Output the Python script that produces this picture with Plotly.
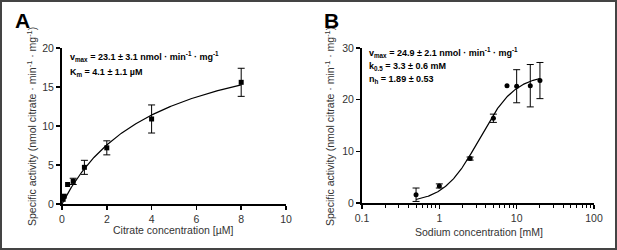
import plotly.graph_objects as go
import numpy as np

# Panel A: citrate
citrate_x = [0.05, 0.1, 0.25, 0.5, 1, 2, 4, 8]
citrate_y = [0.6, 1.0, 2.5, 2.9, 4.7, 7.2, 10.9, 15.6]
citrate_err = [None, None, None, 0.4, 0.9, 0.9, 1.8, 1.8]
vmax_a, km_a = 23.1, 4.1

# Panel B: sodium
sodium_x = [0.5, 1, 2.5, 5, 7.5, 10, 15, 20]
sodium_y = [1.6, 3.3, 8.6, 16.4, 22.7, 22.6, 22.7, 23.7]
sodium_err = [1.3, 0.4, 0.3, 0.8, None, 3.2, 4.1, 3.5]
vmax_b, k05_b, nh_b = 24.9, 3.3, 1.89

xticks_a = [0, 2, 4, 6, 8, 10]
yticks_a = [0, 5, 10, 15, 20]
xticks_b = [0.1, 1, 10, 100]
xticklabels_b = ["0.1", "1", "10", "100"]
yticks_b = [0, 10, 20, 30]

FONT = "Liberation Sans, Arial, sans-serif"
W, H = 617, 250

def px_x(p):
    return p / W

def px_y(p):
    return (H - p) / H

fig = go.Figure()

def add_points(xs, ys, errs, symbol, xa, ya):
    with_e = [i for i, e in enumerate(errs) if e is not None]
    without = [i for i, e in enumerate(errs) if e is None]
    marker = dict(symbol=symbol, size=5, color="black")
    if with_e:
        fig.add_trace(go.Scatter(x=[xs[i] for i in with_e], y=[ys[i] for i in with_e],
                                 mode="markers", marker=marker,
                                 error_y=dict(type="data", array=[errs[i] for i in with_e],
                                              color="black", thickness=1, width=3.5),
                                 xaxis=xa, yaxis=ya))
    if without:
        fig.add_trace(go.Scatter(x=[xs[i] for i in without], y=[ys[i] for i in without],
                                 mode="markers", marker=marker, xaxis=xa, yaxis=ya))

# fitted curves from the reported fit parameters
xa_ = np.linspace(0, 8, 200)
fig.add_trace(go.Scatter(x=xa_, y=vmax_a * xa_ / (km_a + xa_), mode="lines",
                         line=dict(color="black", width=1.2), xaxis="x", yaxis="y"))
add_points(citrate_x, citrate_y, citrate_err, "square", "x", "y")

xb_ = np.logspace(np.log10(0.5), np.log10(20), 200)
fig.add_trace(go.Scatter(x=xb_, y=vmax_b * xb_**nh_b / (k05_b**nh_b + xb_**nh_b), mode="lines",
                         line=dict(color="black", width=1.2), xaxis="x2", yaxis="y2"))
add_points(sodium_x, sodium_y, sodium_err, "circle", "x2", "y2")

tickfont = dict(family=FONT, size=10.5, color="#333")
common = dict(showgrid=False, zeroline=False, showline=True, linecolor="black",
              linewidth=2, ticks="outside", ticklen=4, tickwidth=1.5, tickcolor="black",
              tickfont=tickfont, automargin=False, fixedrange=True)

minor_b = []
for d in [0.1, 1, 10]:
    for k in range(2, 10):
        minor_b.append(d * k)

fig.update_layout(
    width=W, height=H,
    margin=dict(l=0, r=0, t=0, b=0),
    paper_bgcolor="white", plot_bgcolor="white",
    showlegend=False, hovermode=False,
    xaxis=dict(domain=[px_x(62), px_x(286)], range=[0, 10], tickvals=xticks_a,
               anchor="y", **common),
    yaxis=dict(domain=[px_y(204), px_y(48)], range=[0, 20], tickvals=yticks_a,
               anchor="x", **common),
    xaxis2=dict(domain=[px_x(362), px_x(594)], type="log", range=[-1, 2],
                tickvals=xticks_b, ticktext=xticklabels_b, anchor="y2",
                minor=dict(tickvals=minor_b, ticks="outside", ticklen=2.5,
                           tickwidth=1, tickcolor="black"),
                **common),
    yaxis2=dict(domain=[px_y(203), px_y(48)], range=[0, 30], tickvals=yticks_b,
                anchor="x2", **common),
)

ann = []
titlefont = dict(family=FONT, size=10.5, color="#333")
ytitle = "Specific activity (nmol citrate · min<sup>-1</sup> · mg<sup>-1</sup>)"
ann.append(dict(x=px_x(31), y=px_y(127), text=ytitle, textangle=-90, font=titlefont))
ann.append(dict(x=px_x(329), y=px_y(127), text=ytitle, textangle=-90, font=titlefont))
ann.append(dict(x=px_x(173), y=px_y(230), text="Citrate concentration [µM]", font=titlefont))
ann.append(dict(x=px_x(479), y=px_y(232), text="Sodium concentration [mM]", font=titlefont))
letterfont = dict(family=FONT, size=21, color="black")
ann.append(dict(x=px_x(22), y=px_y(21), text="<b>A</b>", font=letterfont))
ann.append(dict(x=px_x(331), y=px_y(21), text="<b>B</b>", font=letterfont))
bf = dict(family=FONT, size=9, color="black")
ann.append(dict(x=px_x(68), y=px_y(57), xanchor="left",
                text="<b>v<sub>max</sub> = 23.1 ± 3.1 nmol · min<sup>-1</sup> · mg<sup>-1</sup></b>", font=bf))
ann.append(dict(x=px_x(68), y=px_y(72), xanchor="left",
                text="<b>K<sub>m</sub> = 4.1 ± 1.1 µM</b>", font=bf))
ann.append(dict(x=px_x(367), y=px_y(53), xanchor="left",
                text="<b>v<sub>max</sub> = 24.9 ± 2.1 nmol · min<sup>-1</sup> · mg<sup>-1</sup></b>", font=bf))
ann.append(dict(x=px_x(367), y=px_y(66), xanchor="left",
                text="<b>k<sub>0.5</sub> = 3.3 ± 0.6 mM</b>", font=bf))
ann.append(dict(x=px_x(367), y=px_y(80), xanchor="left",
                text="<b>n<sub>h</sub> = 1.89 ± 0.53</b>", font=bf))
for a in ann:
    a.update(xref="paper", yref="paper", showarrow=False)
    a.setdefault("xanchor", "center")
    a.setdefault("yanchor", "middle")
fig.update_layout(annotations=ann)

fig.add_shape(type="rect", xref="paper", yref="paper",
              x0=px_x(1), x1=px_x(616), y0=px_y(249), y1=px_y(1),
              line=dict(color="#444", width=2), fillcolor="rgba(0,0,0,0)")

fig.write_html("out.html", config={"displayModeBar": False, "staticPlot": True},
               post_script="document.body.style.margin='0';document.body.style.overflow='hidden';")
